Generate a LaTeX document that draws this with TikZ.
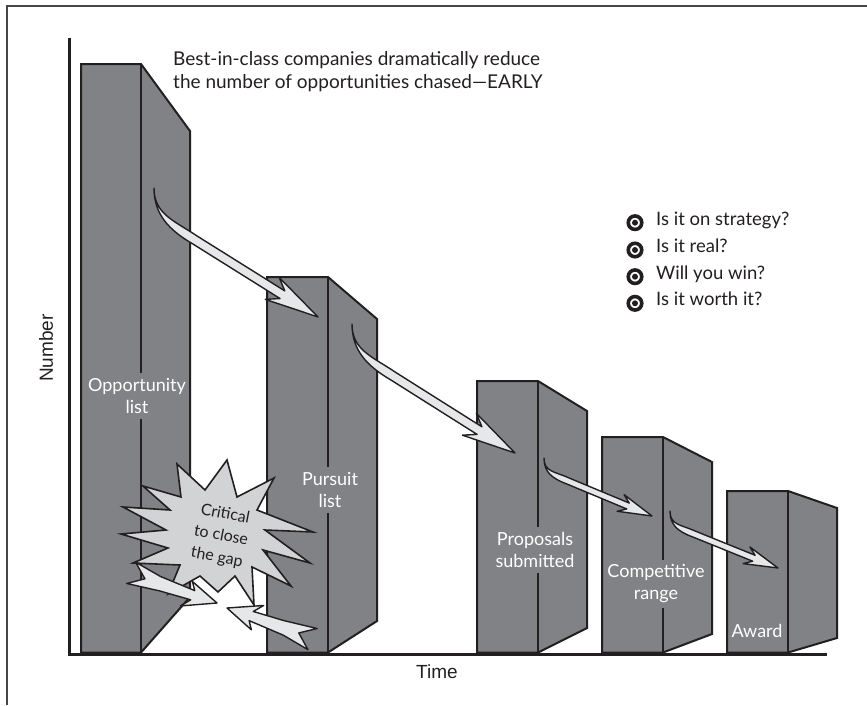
\documentclass[tikz,border=0pt]{standalone}
\usepackage{fontspec}
\setmainfont{Lato}
\newfontfamily\axisfont{Liberation Sans}
\usetikzlibrary{calc}
\definecolor{bargray}{RGB}{128,130,133}
\definecolor{arrowfill}{RGB}{230,231,232}
\definecolor{burstfill}{RGB}{209,211,212}
\definecolor{framegray}{RGB}{70,70,70}
\definecolor{ink}{RGB}{35,31,32}
\tikzset{
  barstyle/.style={fill=bargray, draw=ink, line width=2pt},
  barline/.style={draw=ink, line width=2pt},
  barlabel/.style={text=white, align=center, inner sep=5pt, font=\fontsize{18}{22}\selectfont},
  bentstyle/.style={fill=arrowfill, draw=ink, line width=1.4pt, line join=round},
  burststyle/.style={fill=burstfill, draw=ink, line width=1.6pt, line join=miter},
  bursttext/.style={text=ink, align=center, inner sep=0pt, font=\fontsize{16}{22}\selectfont},
  qtext/.style={anchor=mid west, inner sep=0pt, text=ink, font=\fontsize{18.5}{22}\selectfont},
  titletext/.style={anchor=base west, inner sep=0pt, text=ink, font=\fontsize{19}{23}\selectfont},
  axislabel/.style={inner sep=0pt, text=ink, font=\axisfont\fontsize{19}{23}\selectfont},
  bulletring/.style={circle, draw=ink, line width=3.6pt, minimum size=13.5pt, inner sep=0pt},
}
\newcommand{\drawbar}[6]{%
  \filldraw[barstyle] (#1,652.5) -- (#1,#4) -- (#2,#4) -- (#3,#5) -- (#3,#6) -- (#2,652.5) -- cycle;
}
% #1 tail, #2 bend, #3 tip, #4 half width, #5 head half width, #6 head length, #7 notch, #8 bend control, #9 tail control
\newcommand{\bentarrow}[9]{%
  \path ($(#3)!#7!(#2)$) coordinate (hm) ($(#3)!#6!(#2)$) coordinate (bm)
    ($(#2)!#4!90:(#3)$) coordinate (bl) ($(#2)!#4!-90:(#3)$) coordinate (br);
  \path ($(hm)!#4!90:(#3)$) coordinate (nl) ($(hm)!#4!-90:(#3)$) coordinate (nr)
    ($(bm)!#5!90:(#3)$) coordinate (gl) ($(bm)!#5!-90:(#3)$) coordinate (gr)
    ($(bl)!-#8!(#3)$) coordinate (cl) ($(br)!-#8!(#3)$) coordinate (cr)
    ($(#1)+(0,#9)$) coordinate (ct);
  \filldraw[bentstyle] (#1) .. controls (ct) and (cl) .. (bl) -- (nl) -- (gl) -- (#3) -- (gr) -- (nr) -- (br) .. controls (cr) and (ct) .. (#1) -- cycle;
}
\begin{document}
\begin{tikzpicture}[x=1pt,y=-1pt]
\useasboundingbox (0,0) rectangle (867,705);
\fill[white] (0,0) rectangle (867,705);
% frame
\draw[framegray, line width=1.5pt] (7,705) -- (7,6) -- (867,6);
% axes
\coordinate (ytop) at (69.5,38);
\coordinate (origin) at (69.5,654);
\coordinate (xend) at (827,654);
\draw[ink, line width=3pt] (ytop) -- (origin) -- (xend);
\node[axislabel, rotate=90] (ylab) at (46,348) {Number};
\node[axislabel] (xlab) at (437,672) {Time};
% title
\node[titletext] (t1) at (173,65) {Best-in-class companies dramatically reduce};
\node[titletext] (t2) at (173,88.3) {the number of opportunities chased\textemdash EARLY};
% bars
\drawbar{81}{141}{190}{64}{131}{597}
\drawbar{267}{328}{377}{277}{319}{621}
\drawbar{477}{538}{587}{381}{411}{628}
\drawbar{602}{663}{712}{437}{462}{634}
\drawbar{727}{788}{837}{491}{508}{638}
% labels
\node[barlabel] (l1) at (137,396) {Opportunity\\list};
\node[barlabel] (l2) at (330,490) {Pursuit\\list};
\node[barlabel] (l3) at (535,550) {Proposals\\submitted};
\node[barlabel] (l4) at (656,584) {Competitive\\range};
\node[barlabel] (l5) at (757,631) {Award};
% dividers
\coordinate (d1) at (141,64);  \coordinate (e1) at (141,652.5);
\coordinate (d2) at (328,277); \coordinate (e2) at (328,652.5);
\coordinate (d3) at (538,381); \coordinate (e3) at (538,652.5);
\coordinate (d4) at (663,437); \coordinate (e4) at (663,652.5);
\coordinate (d5) at (788,491); \coordinate (e5) at (788,652.5);
\draw[barline] (d1) -- (d1 |- l1.north) (d1 |- l1.south) -- (e1);
\draw[barline] (d2) -- (d2 |- l2.north) (d2 |- l2.south) -- (e2);
\draw[barline] (d3) -- (d3 |- l3.north) (d3 |- l3.south) -- (e3);
\draw[barline] (d4) -- (d4 |- l4.north) (d4 |- l4.south) -- (e4);
\draw[barline] (d5) -- (e5);
% bent arrows
\coordinate (a1t) at (154,188); \coordinate (a1b) at (195,240); \coordinate (a1p) at (318,317);
\coordinate (a2t) at (352,324); \coordinate (a2b) at (393,376); \coordinate (a2p) at (515,453);
\coordinate (a3t) at (544,458); \coordinate (a3b) at (568,481); \coordinate (a3p) at (652,516);
\coordinate (a4t) at (670,511); \coordinate (a4b) at (694,534); \coordinate (a4p) at (778,568);
\bentarrow{a1t}{a1b}{a1p}{4.5pt}{13pt}{54pt}{42pt}{28pt}{26}
\bentarrow{a2t}{a2b}{a2p}{4.5pt}{13pt}{54pt}{42pt}{28pt}{26}
\bentarrow{a3t}{a3b}{a3p}{3.2pt}{9pt}{34pt}{26pt}{16pt}{14}
\bentarrow{a4t}{a4b}{a4p}{3.2pt}{9pt}{34pt}{26pt}{16pt}{14}
% starburst
\filldraw[burststyle] (227,460) -- (237,497) -- (274,478) -- (257,510) -- (313,532) -- (265,530)
  -- (310,563) -- (263,550) -- (291,586) -- (252,567) -- (254,605) -- (235,576) -- (218,592)
  -- (200,576) -- (168,594) -- (180,565) -- (133,563) -- (168,548) -- (121,534) -- (166,530)
  -- (123,507) -- (170,510) -- (143,486) -- (181,497) -- (177,464) -- (205,490) -- cycle;
\node[bursttext, rotate=-11] (gap) at (221,536) {Critical\\to close\\the gap};
% small arrows into the gap
\begin{scope}[shift={(217,603)}, rotate=-17.8]
  \filldraw[bentstyle] (0,0) -- (-30,-13) -- (-25,-5) -- (-62,-8) -- (-90,-14) -- (-76,-1)
    -- (-92,9) -- (-58,6) -- (-26,5) -- (-34,14) -- cycle;
\end{scope}
\begin{scope}[shift={(227,608)}, rotate=161.6]
  \filldraw[bentstyle] (0,0) -- (-30,-13) -- (-25,-5) -- (-62,-8) -- (-90,-14) -- (-76,-1)
    -- (-92,9) -- (-58,6) -- (-26,5) -- (-34,14) -- cycle;
\end{scope}
% bullets
\foreach \i/\yy/\txt in {1/222.7/{Is it on strategy?}, 2/250/{Is it real?}, 3/276.7/{Will you win?}, 4/303.3/{Is it worth it?}}{
  \node[bulletring] (c\i) at (635,\yy) {};
  \fill[ink] (c\i.center) circle (3pt);
  \node[qtext] (q\i) at (656,\yy) {\txt};
}
\end{tikzpicture}
\end{document}
